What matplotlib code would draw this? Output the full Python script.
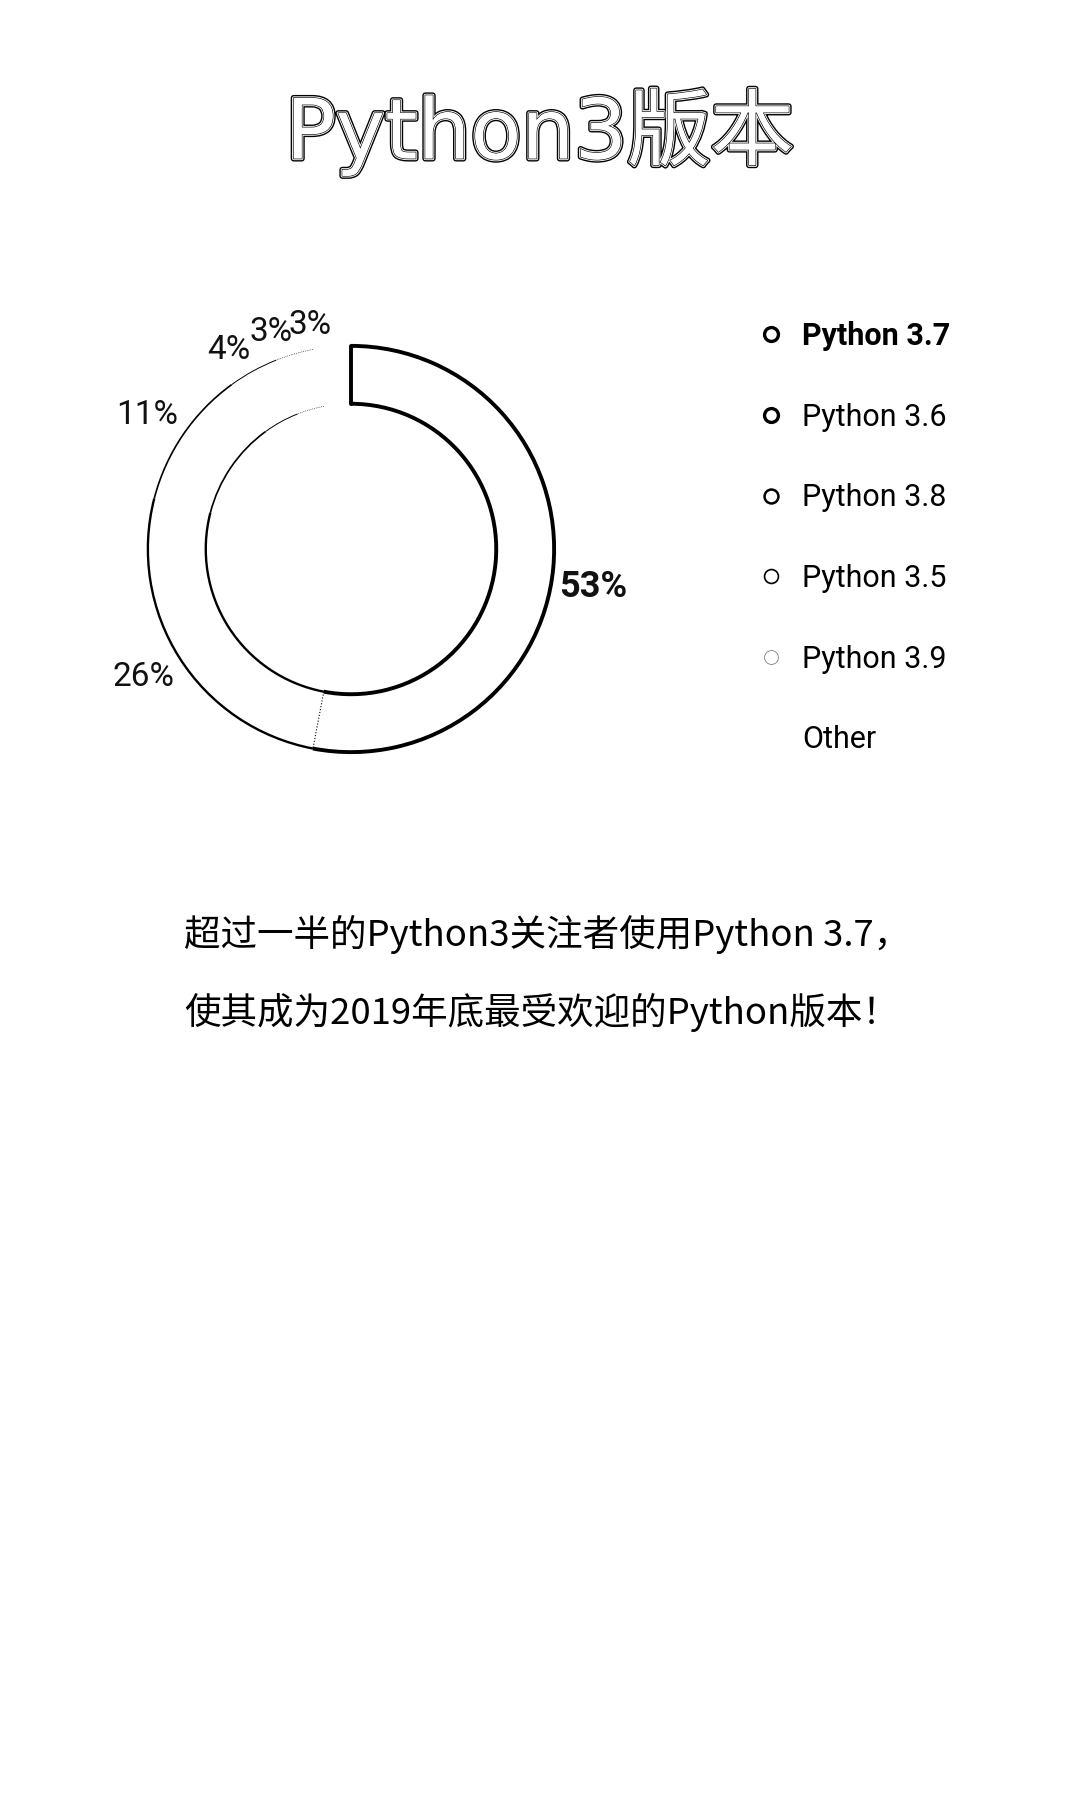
import matplotlib
matplotlib.use('Agg')
import matplotlib.pyplot as plt
import matplotlib.patheffects as pe
from matplotlib.patches import Arc
from matplotlib.lines import Line2D
import numpy as np

plt.rcParams['font.family'] = ['Roboto', 'Noto Sans CJK SC', 'DejaVu Sans']

# 数据
versions = ['Python 3.7', 'Python 3.6', 'Python 3.8', 'Python 3.5', 'Python 3.9', 'Other']
shares = [53, 26, 11, 4, 3, 3]
pct_labels = ['53%', '26%', '11%', '4%', '3%', '3%']
title = 'Python3版本'
note_lines = ['超过一半的Python3关注者使用Python 3.7，',
              '使其成为2019年底最受欢迎的Python版本！']

# 每个扇区的描边粗细（越小的份额越细）
edge_widths = [2.8, 1.7, 1.2, 0.7, 0.5, 0]
edge_styles = ['-', '-', '-', '-', ':', '-']
marker_edges = [2.4, 2.4, 1.8, 1.2, 0.6, 0]

W, H = 1080, 1800
fig = plt.figure(figsize=(W / 100, H / 100), dpi=100)
fig.patch.set_facecolor('white')

# 标题：空心描边字
fig.text(0.5, 1 - 132 / H, title, ha='center', va='center', fontsize=60,
         family=['DejaVu Sans', 'Noto Sans CJK SC'], color='white',
         path_effects=[pe.Stroke(linewidth=4.2, foreground='black'),
                       pe.Stroke(linewidth=2.2, foreground='white'),
                       pe.Stroke(linewidth=0.9, foreground='black'),
                       pe.Normal()])

# 环形图
cx, cy, half = 351, 549, 260
ax = fig.add_axes([(cx - half) / W, 1 - (cy + half) / H, 2 * half / W, 2 * half / H])
ring = 0.285
wedges, texts = ax.pie(shares, labels=pct_labels, startangle=90, counterclock=False,
                       radius=1, labeldistance=1.03,
                       wedgeprops=dict(width=ring, facecolor='white', edgecolor='none'),
                       textprops=dict(fontsize=24, color='#111111'))
texts[0].set_fontweight('bold')
texts[0].set_fontsize(26)
# 标签的角落贴近扇区中线
for t in texts:
    x, y = t.get_position()
    t.set_verticalalignment('bottom' if y > 0 else 'top')
ax.set_xlim(-1.28, 1.28)
ax.set_ylim(-1.28, 1.28)

for w, lw, ls in zip(wedges, edge_widths, edge_styles):
    if lw == 0:
        continue
    for r in (w.r, w.r - w.width):
        ax.add_patch(Arc(w.center, 2 * r, 2 * r, theta1=w.theta1, theta2=w.theta2,
                         lw=lw, ls=ls, color='black'))

# 最大扇区的起始边（粗）以及与下一扇区的分界（虚）
a0 = np.deg2rad(wedges[0].theta2)
ax.plot([(1 - ring) * np.cos(a0), np.cos(a0)], [(1 - ring) * np.sin(a0), np.sin(a0)],
        color='black', lw=edge_widths[0], solid_capstyle='round')
a1 = np.deg2rad(wedges[0].theta1)
ax.plot([(1 - ring) * np.cos(a1), np.cos(a1)], [(1 - ring) * np.sin(a1), np.sin(a1)],
        color='black', lw=0.8, ls=':')

# 图例
handles = []
for mew in marker_edges:
    handles.append(Line2D([], [], marker='o', ls='none', markersize=10,
                          markerfacecolor='white',
                          markeredgecolor='black' if mew > 0.8 else ('0.5' if mew > 0 else 'none'),
                          markeredgewidth=max(mew, 0.01)))
leg = fig.legend(handles, versions, loc='upper left', bbox_to_anchor=(756 / W, 1 - 321 / H),
                 frameon=False, fontsize=22, labelspacing=1.69, handletextpad=0.5,
                 handlelength=1.0, borderpad=0, borderaxespad=0)
leg.get_texts()[0].set_fontweight('bold')

# 说明文字
for i, line in enumerate(note_lines):
    fig.text(184 / W, 1 - (934 + 78 * i) / H, line, ha='left', va='center', fontsize=26.3,
             family=['Noto Sans CJK SC', 'DejaVu Sans'], color='black')

fig.savefig('out.png', dpi=100, facecolor='white')
